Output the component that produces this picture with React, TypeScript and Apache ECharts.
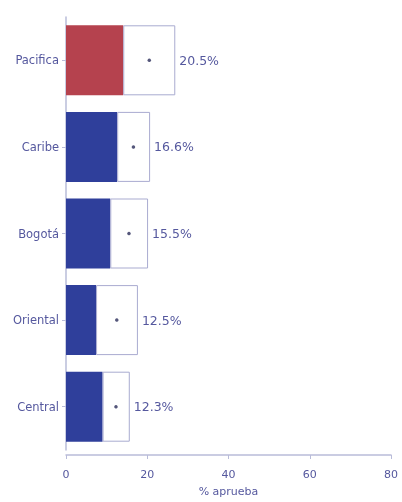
import React, { useEffect, useRef } from "react";
import * as echarts from "echarts";

const categories = ["Pacifica", "Caribe", "Bogotá", "Oriental", "Central"];
const estimates = [20.5, 16.6, 15.5, 12.5, 12.3];
const lowerBounds = [14.1, 12.6, 10.9, 7.4, 9.0];
const upperBounds = [26.9, 20.7, 20.2, 17.7, 15.7];
const fillColors = ["#b5424e", "#2f3f9b", "#2f3f9b", "#2f3f9b", "#2f3f9b"];
const xTicks = [0, 20, 40, 60, 80];

export default function App() {
  const ref = useRef<HTMLDivElement>(null);
  useEffect(() => {
    if (!ref.current) return;
    const chart = echarts.init(ref.current, null, { renderer: "svg" });
    const textColor = "#55589e";
    const axisColor = "#b9bcd9";
    const font = "DejaVu Sans";
    chart.setOption({
      animation: false,
      grid: { left: 66, right: 11, top: 17, bottom: 42 },
      xAxis: {
        type: "value",
        min: 0,
        max: 80,
        interval: 20,
        offset: 5,
        name: "% aprueba",
        nameLocation: "middle",
        nameGap: 31,
        nameTextStyle: { color: textColor, fontSize: 11, fontFamily: font },
        axisLine: { show: true, lineStyle: { color: axisColor, width: 1.5 } },
        axisTick: { show: true, length: 4, lineStyle: { color: axisColor } },
        axisLabel: {
          color: textColor,
          fontSize: 11,
          fontFamily: font,
          margin: 14,
          formatter: (v: number) => (xTicks.includes(v) ? String(v) : ""),
        },
        splitLine: { show: false },
      },
      yAxis: {
        type: "category",
        data: categories,
        inverse: true,
        axisLine: { show: true, lineStyle: { color: axisColor, width: 1.5 } },
        axisTick: { show: true, length: 4, alignWithLabel: true, lineStyle: { color: axisColor } },
        axisLabel: { color: textColor, fontSize: 11.5, fontFamily: font, margin: 7 },
      },
      series: [
        {
          type: "bar",
          stack: "ci",
          barWidth: 70,
          data: lowerBounds.map((v, i) => ({ value: v, itemStyle: { color: fillColors[i] } })),
          z: 2,
        },
        {
          type: "bar",
          stack: "ci",
          barWidth: 70,
          data: upperBounds.map((u, i) => +(u - lowerBounds[i]).toFixed(2)),
          itemStyle: { color: "#ffffff", borderColor: "#a9abd0", borderWidth: 1 },
          label: {
            show: true,
            position: "right",
            distance: 4,
            color: textColor,
            fontSize: 12.5,
            fontFamily: font,
            formatter: (p: any) => estimates[p.dataIndex].toFixed(1) + "%",
          },
          z: 2,
        },
        {
          type: "scatter",
          data: estimates.map((v, i) => [v, categories[i]]),
          symbolSize: 3.5,
          itemStyle: { color: "#2a2d5a" },
          z: 5,
        },
      ],
    });
    return () => chart.dispose();
  }, []);
  return (
    <div
      ref={ref}
      style={{ width: 402, height: 502, position: "fixed", left: 0, top: 0 }}
    />
  );
}
